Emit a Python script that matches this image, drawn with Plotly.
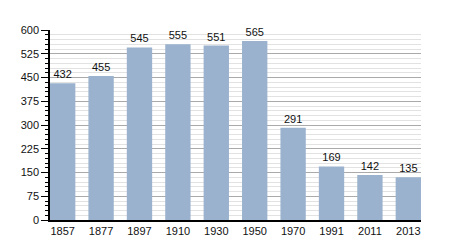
import plotly.graph_objects as go

years = ["1857", "1877", "1897", "1910", "1930", "1950", "1970", "1991", "2011", "2013"]
population = [432, 455, 545, 555, 551, 565, 291, 169, 142, 135]
y_ticks = [0, 75, 150, 225, 300, 375, 450, 525, 600]

fig = go.Figure(go.Bar(
    x=years, y=population,
    marker=dict(color="#9ab2cd", line=dict(width=0)),
    text=[str(v) for v in population],
    textposition="outside",
    textfont=dict(family="Liberation Sans, Arial, sans-serif", size=11, color="#111"),
    cliponaxis=False,
))

fig.update_layout(
    width=450, height=250,
    margin=dict(l=50, r=29, t=30, b=30),
    paper_bgcolor="white", plot_bgcolor="white",
    bargap=0.34,
    showlegend=False,
    font=dict(family="Liberation Sans, Arial, sans-serif", size=11, color="#111"),
)
fig.update_xaxes(
    type="category", range=[-0.33, 9.33],
    showline=True, linecolor="black", linewidth=1.5,
    ticks="", showgrid=False,
    tickfont=dict(size=11), ticklabelstandoff=0,
)
fig.update_yaxes(
    range=[0, 600], tickvals=y_ticks,
    showline=True, linecolor="black", linewidth=1.5,
    ticks="outside", ticklen=7, tickcolor="black", tickwidth=1,
    showgrid=True, gridcolor="#aaaaaa", gridwidth=1,
    zeroline=False,
    minor=dict(dtick=15, ticks="outside", ticklen=3, tickcolor="black",
               showgrid=True, gridcolor="#e2e2e2", gridwidth=1),
    tickfont=dict(size=11),
)

fig.write_html("out.html")
